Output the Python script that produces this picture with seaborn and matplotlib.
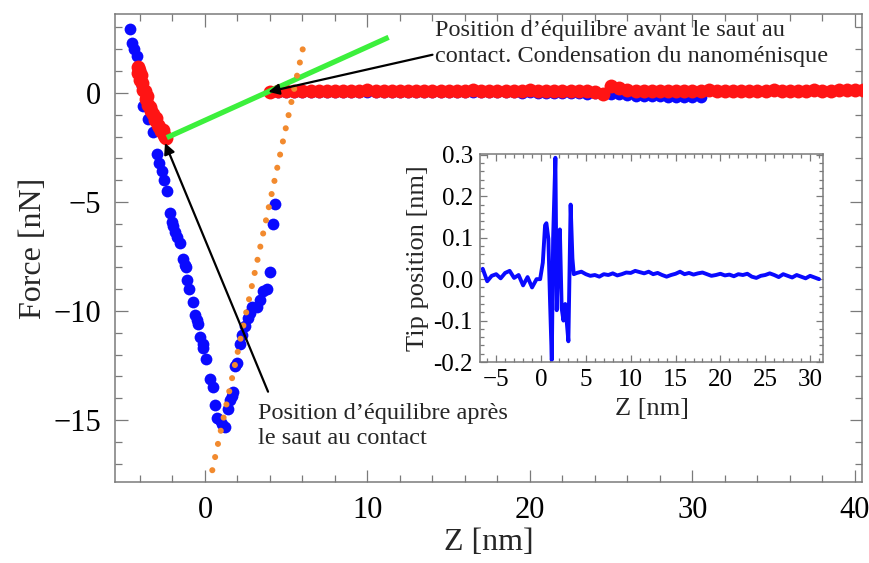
import numpy as np
import matplotlib
matplotlib.use("Agg")
import matplotlib.pyplot as plt
from matplotlib.ticker import MultipleLocator
import seaborn as sns

# ------------------------------------------------------------
# Data (Z in nm, force in nN)
# ------------------------------------------------------------
# blue curve: descent, jump, rise back up
blue_z = [-4.6, -4.5, -4.35, -4.2, -4.0, -3.85, -3.8, -3.5, -3.2, -2.95, -2.8, -2.65,
          -2.5, -2.35, -2.15, -2.05, -1.95, -1.85, -1.7, -1.55, -1.35, -1.25, -1.15,
          -1.1, -1.0, -0.75, -0.6, -0.5, -0.45, -0.3, -0.15, -0.1, 0.05, 0.3, 0.5,
          0.6, 0.75, 0.9, 1.05, 1.25, 1.4, 1.55, 1.65, 1.7, 1.85, 2.0, 2.15, 2.3,
          2.45, 2.65, 2.8, 2.9, 3.2, 3.4, 3.55, 3.8, 4.0, 4.2, 4.3]
blue_f = [2.95, 2.3, 2.0, 1.7, 1.0, 0.3, -0.6, -1.2, -1.8, -2.8, -3.2, -3.6,
          -4.0, -4.5, -5.5, -5.9, -6.1, -6.4, -6.6, -6.9, -7.6, -7.9, -8.0,
          -8.6, -9.0, -9.6, -10.2, -10.4, -10.6, -11.2, -11.5, -11.7, -12.2, -13.1, -13.5,
          -14.3, -14.9, -15.0, -15.2, -15.3, -14.5, -14.1, -13.9, -13.7, -12.5, -12.4, -11.5, -11.1,
          -10.7, -10.3, -10.1, -9.8, -9.8, -9.5, -9.1, -9.0, -8.2, -6.0, -5.1]

# blue plateau (sampled every 0.5 nm from 4 to 30.5 nm)
blue_flat_z = np.arange(4.0, 30.75, 0.5)
blue_flat_f = [0.05, 0.04, 0.06, 0.05, 0.03, 0.05, 0.06, 0.04, 0.05, 0.03,
               0.04, 0.06, 0.05, 0.04, 0.03, 0.05, 0.04, 0.06, 0.05, 0.03,
               0.04, 0.05, 0.03, 0.04, 0.05, 0.03, 0.02, 0.04, 0.03, 0.02,
               0.03, 0.01, 0.02, 0.0, 0.01, 0.0, -0.01, 0.0, -0.02, -0.03,
               -0.02, -0.04, -0.05, -0.07, -0.1, -0.12, -0.13, -0.15, -0.16, -0.17,
               -0.18, -0.19, -0.2, -0.2]

# red curve: steep part before the jump
red_steep_z = [-4.15, -4.1, -4.05, -4.0, -3.95, -3.85, -3.8, -3.7, -3.65, -3.55, -3.5,
               -3.4, -3.3, -3.2, -3.1, -3.0, -2.9, -2.8, -2.7, -2.6, -2.5, -2.45, -2.4]
red_steep_f = [1.2, 0.9, 1.05, 0.6, 0.8, 0.45, 0.15, 0.1, -0.3, -0.15, -0.55,
               -0.65, -0.85, -0.95, -1.25, -1.15, -1.45, -1.55, -1.75, -1.7, -1.95, -2.0, -2.05]

# red plateau (sampled every 0.5 nm from 4 to 40.5 nm)
red_flat_z = np.arange(4.0, 40.75, 0.5)
red_flat_f = [0.06, 0.08, 0.1, 0.09, 0.07, 0.1, 0.11, 0.08, 0.09, 0.1,
              0.08, 0.1, 0.12, 0.09, 0.08, 0.1, 0.11, 0.09, 0.1, 0.08,
              0.09, 0.11, 0.1, 0.08, 0.1, 0.12, 0.1, 0.09, 0.11, 0.1,
              0.08, 0.1, 0.12, 0.1, 0.09, 0.11, 0.08, 0.1, 0.09, 0.11,
              0.05, -0.05, 0.3, 0.22, 0.12, 0.1, 0.09, 0.11, 0.1, 0.08,
              0.1, 0.11, 0.09, 0.1, 0.12, 0.1, 0.09, 0.1, 0.11, 0.1,
              0.09, 0.1, 0.12, 0.11, 0.1, 0.09, 0.11, 0.12, 0.1, 0.11,
              0.12, 0.13, 0.12, 0.14]

# orange dotted fit line and green line (end points)
orange_z = [0.45, 6.1]
orange_f = [-17.3, 2.3]
green_z = [-2.35, 11.3]
green_f = [-2.05, 2.55]

# inset: tip position vs Z
tip_z = [-6.5, -6.0, -5.5, -5.0, -4.5, -4.0, -3.5, -3.0, -2.5, -2.0, -1.5, -1.0, -0.5,
         -0.1, 0.2, 0.45, 0.6, 0.82, 1.0, 1.2, 1.35, 1.6, 1.75, 1.9, 2.1, 2.3, 2.5,
         2.7, 3.05, 3.3, 3.5, 3.65,
         4.0, 4.5, 5.0, 5.5, 6.0, 6.5, 7.0, 7.5, 8.0, 8.5, 9.0, 9.5, 10.0, 10.5, 11.0,
         11.5, 12.0, 12.5, 13.0, 13.5, 14.0, 14.5, 15.0, 15.5, 16.0, 16.5, 17.0, 17.5,
         18.0, 18.5, 19.0, 19.5, 20.0, 20.5, 21.0, 21.5, 22.0, 22.5, 23.0, 23.5, 24.0,
         24.5, 25.0, 25.5, 26.0, 26.5, 27.0, 27.5, 28.0, 28.5, 29.0, 29.5, 30.0, 30.5, 31.0]
tip_pos = [0.025, -0.005, 0.008, 0.012, 0.002, 0.015, 0.02, 0.003, 0.01, -0.015, 0.005, -0.02, 0.0,
           0.0, 0.04, 0.13, 0.135, 0.097, -0.05, -0.195, 0.1, 0.293, -0.075, 0.05, 0.12, -0.07, -0.1,
           -0.06, -0.15, 0.18, 0.05, 0.012,
           0.015, 0.018, 0.012, 0.008, 0.01, 0.006, 0.012, 0.01, 0.014, 0.009, 0.012, 0.016, 0.015, 0.02, 0.017,
           0.014, 0.018, 0.012, 0.015, 0.01, 0.006, 0.01, 0.013, 0.018, 0.012, 0.015, 0.011, 0.014,
           0.016, 0.012, 0.008, 0.01, 0.013, 0.009, 0.011, 0.007, 0.012, 0.01, 0.013, 0.006, 0.003,
           0.008, 0.01, 0.014, 0.01, 0.005, 0.012, 0.008, 0.004, 0.01, 0.006, 0.002, 0.008, 0.004, 0.0]

# ------------------------------------------------------------
# Style
# ------------------------------------------------------------
sns.set_style("ticks")
plt.rcParams['font.family'] = ['Liberation Serif', 'DejaVu Serif']
plt.rcParams['axes.unicode_minus'] = True

BLUE = '#0a0aff'
RED = '#ff1414'
ORANGE = '#f28a2e'
GREEN = '#3cf03c'
SPINE = '#7a7a7a'


def style_axes(ax, label_size, major_len, minor_len, pad):
    for sp in ax.spines.values():
        sp.set_color(SPINE)
        sp.set_linewidth(1.1)
        sp.set_visible(True)
    ax.tick_params(which='both', direction='in', top=True, right=True,
                   color=SPINE, width=0.9, labelsize=label_size, labelcolor='black')
    ax.tick_params(which='major', length=major_len, pad=pad)
    ax.tick_params(which='minor', length=minor_len)


fig = plt.figure(figsize=(8.69, 5.63), dpi=100)
ax = fig.add_axes([0.1323, 0.1439, 0.8596, 0.8313])

# ------------------------------------------------------------
# Main plot
# ------------------------------------------------------------
sns.scatterplot(x=blue_z, y=blue_f, color=BLUE, s=72, linewidth=0, ax=ax, zorder=2)
sns.scatterplot(x=blue_flat_z, y=blue_flat_f, color=BLUE, s=72, linewidth=0, ax=ax, zorder=2)
sns.scatterplot(x=red_steep_z, y=red_steep_f, color=RED, s=100, linewidth=0, ax=ax, zorder=3)
sns.scatterplot(x=red_flat_z, y=red_flat_f, color=RED, s=100, linewidth=0, ax=ax, zorder=3)
ax.plot(green_z, green_f, color=GREEN, lw=3.8, solid_capstyle='butt', zorder=4)
ax.plot(orange_z, orange_f, color=ORANGE, lw=4.4, linestyle=(0, (0.001, 2.2)),
        dash_capstyle='round', zorder=5)

ax.set_xlim(-5.54, 40.43)
ax.set_ylim(-17.84, 3.62)
ax.xaxis.set_major_locator(MultipleLocator(10))
ax.xaxis.set_minor_locator(MultipleLocator(2))
ax.yaxis.set_major_locator(MultipleLocator(5))
ax.yaxis.set_minor_locator(MultipleLocator(1))
style_axes(ax, 22, 9, 5, 10)
ax.set_xlabel('Z [nm]', fontsize=23, labelpad=2)
ax.set_ylabel('Force [nN]', fontsize=23, labelpad=4)

# annotations
arrow_kw = dict(arrowstyle='-|>', color='black', lw=1.6, mutation_scale=16,
                shrinkA=0, shrinkB=0)
ax.annotate('', xy=(3.9, 0.05), xytext=(14.0, 1.75), arrowprops=arrow_kw, zorder=6)
ax.annotate('', xy=(-2.46, -2.3), xytext=(3.88, -13.7), arrowprops=arrow_kw, zorder=6)
ax.text(14.15, 3.35, 'Position d\u2019\u00e9quilibre avant le saut au\n'
        'contact. Condensation du nanom\u00e9nisque',
        fontsize=17.5, va='top', ha='left', linespacing=1.3, zorder=7)
ax.text(3.26, -14.2, 'Position d\u2019\u00e9quilibre apr\u00e8s\nle saut au contact',
        fontsize=17.5, va='top', ha='left', linespacing=1.3, zorder=7)

# ------------------------------------------------------------
# Inset
# ------------------------------------------------------------
ins = fig.add_axes([0.5524, 0.357, 0.3947, 0.3694])
ins.set_facecolor('white')
sns.lineplot(x=tip_z, y=tip_pos, color=BLUE, lw=2.8, estimator=None, sort=False, ax=ins)
ins.set_xlim(-6.8, 31.44)
ins.set_ylim(-0.2, 0.302)
ins.xaxis.set_major_locator(MultipleLocator(5))
ins.xaxis.set_minor_locator(MultipleLocator(1))
ins.yaxis.set_major_locator(MultipleLocator(0.1))
ins.yaxis.set_minor_locator(MultipleLocator(0.02))
ins.yaxis.set_major_formatter(matplotlib.ticker.FormatStrFormatter('%.1f'))
style_axes(ins, 18, 5, 3, 5)
ins.set_xlabel('Z [nm]', fontsize=19, labelpad=5)
ins.set_ylabel('Tip position [nm]', fontsize=19, labelpad=3)

fig.savefig('out.png', dpi=100)
